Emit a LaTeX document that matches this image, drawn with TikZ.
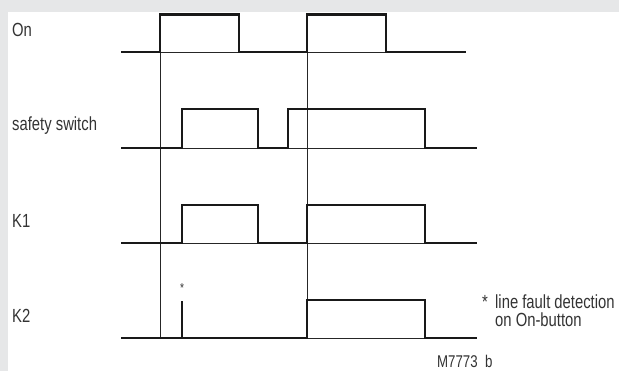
\documentclass[tikz,border=0pt]{standalone}
\usepackage{fontspec}
\setmainfont{Liberation Sans}[FakeStretch=0.78]
\usepackage{xcolor}
\usetikzlibrary{positioning}
\definecolor{framegray}{HTML}{E6E7E8}

\begin{document}
\begin{tikzpicture}[
    x=1pt, y=-1pt,
    signal/.style={line width=2.2pt, line join=miter, black!90},
    guide/.style={line width=0.9pt, black!85},
    label/.style={anchor=base west, inner sep=0pt, text=black!80, font=\fontsize{19}{22}\selectfont}
]
    % frame
    \fill[framegray] (0,0) rectangle (619,371);
    \fill[white] (8,12) rectangle (619,371);
    \useasboundingbox (0,0) rectangle (619,371);

    % signal names
    \node[label] (on) at (12,37) {On};
    \node[label] (safety) at (12,130.5) {safety switch};
    \node[label] (kone) at (12,228) {K1};
    \node[label] (ktwo) at (12,323) {K2};

    % thin base lines and time markers
    \draw[guide] (160,52) -- (239,52);
    \draw[guide] (307,52) -- (386,52);
    \draw[guide] (182,148) -- (258,148);
    \draw[guide] (288,148) -- (425,148);
    \draw[guide] (182,243) -- (258,243);
    \draw[guide] (307,243) -- (425,243);
    \draw[guide] (307,338) -- (425,338);
    \draw[guide] (160,52) -- (160,338);
    \draw[guide] (307,52) -- (307,338);

    % signals
    \draw[signal] (121,52) -| (160,14.5) -| (239,52) -| (307,14.5) -| (386,52) -- (466,52);
    \draw[signal] (121,148) -| (182,109) -| (258,148) -| (288,109) -| (425,148) -- (477,148);
    \draw[signal] (121,243) -| (182,205) -| (258,243) -| (307,205) -| (425,243) -- (477,243);
    \draw[signal] (121,338) -| (307,300) -| (425,338) -- (477,338);
    \draw[signal] (182,338) -- (182,301);

    % line fault mark and note
    \node[anchor=base, inner sep=0pt, text=black!80, font=\fontsize{13}{15}\selectfont] (star) at (182,292.5) {*};
    \node[label] (note) at (495,308.5) {line fault detection};
    \node[label] (notetwo) at (495,327) {on On-button};
    \node[label] (notestar) at (482,308.5) {*};
    \node[label, font=\fontsize{17}{20}\selectfont] (ref) at (437,367.5) {M7773\ \ b};
\end{tikzpicture}
\end{document}
